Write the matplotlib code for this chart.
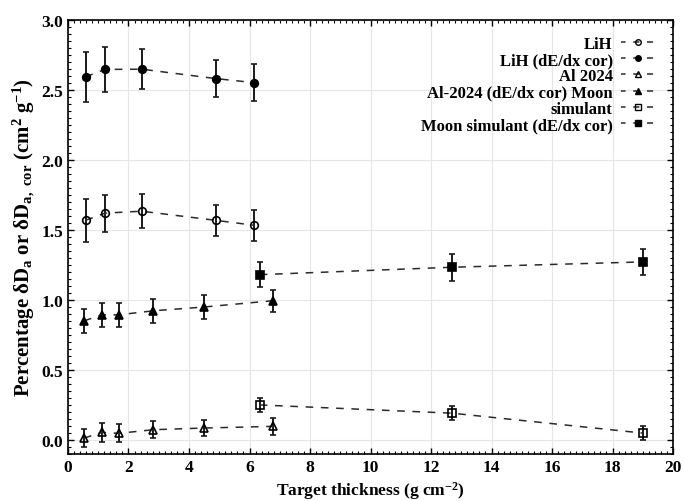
import matplotlib
matplotlib.use("Agg")
import matplotlib.pyplot as plt
from matplotlib.ticker import MultipleLocator, FormatStrFormatter
from matplotlib.lines import Line2D

plt.rcParams['font.family'] = ['Liberation Serif', 'DejaVu Serif']
plt.rcParams['font.weight'] = 'bold'
plt.rcParams['mathtext.fontset'] = 'custom'
plt.rcParams['mathtext.rm'] = 'Liberation Serif:bold'
plt.rcParams['mathtext.it'] = 'Liberation Serif:bold'
plt.rcParams['mathtext.bf'] = 'Liberation Serif:bold'

# Data
lih_x = [0.58, 1.22, 2.43, 4.88, 6.14]
lih_y = [1.567, 1.618, 1.632, 1.567, 1.532]
lih_err = [0.155, 0.133, 0.12, 0.11, 0.11]

lihcor_x = [0.58, 1.22, 2.43, 4.88, 6.14]
lihcor_y = [2.591, 2.644, 2.646, 2.579, 2.55]
lihcor_err = [0.18, 0.16, 0.145, 0.135, 0.13]

al_x = [0.53, 1.12, 1.67, 2.82, 4.49, 6.78]
al_y = [0.012, 0.053, 0.046, 0.072, 0.084, 0.096]
al_err = [0.065, 0.067, 0.065, 0.062, 0.06, 0.062]

alcor_x = [0.53, 1.12, 1.67, 2.82, 4.49, 6.78]
alcor_y = [0.849, 0.892, 0.892, 0.921, 0.948, 0.993]
alcor_err = [0.085, 0.084, 0.084, 0.084, 0.083, 0.08]

sim_x = [6.34, 12.70, 19.0]
sim_y = [0.249, 0.19, 0.048]
sim_err = [0.048, 0.05, 0.048]

simcor_x = [6.34, 12.70, 19.0]
simcor_y = [1.179, 1.232, 1.27]
simcor_err = [0.09, 0.095, 0.09]

labels = ["LiH", "LiH (dE/dx cor)", "Al 2024", "Al-2024 (dE/dx cor) Moon",
          "simulant", "Moon simulant (dE/dx cor)"]

fig = plt.figure(figsize=(6.84, 5.02), dpi=100)
ax = fig.add_axes([0.0994, 0.094, 0.8846, 0.865])

series = [
    (lih_x, lih_y, lih_err, 'o', 'none'),
    (lihcor_x, lihcor_y, lihcor_err, 'o', 'black'),
    (al_x, al_y, al_err, '^', 'none'),
    (alcor_x, alcor_y, alcor_err, '^', 'black'),
    (sim_x, sim_y, sim_err, 's', 'none'),
    (simcor_x, simcor_y, simcor_err, 's', 'black'),
]

line_col = '#2a2a2a'
handles = []
for (x, y, e, m, fc), lab in zip(series, labels):
    ax.errorbar(x, y, yerr=e, fmt=m, mfc=fc, mec='black', ms=5.5, mew=1.2,
                color=line_col, ecolor='#1a1a1a', elinewidth=1.4, capsize=2.5,
                capthick=1.3, linestyle=(0, (5, 5)), lw=1.1)
    handles.append(Line2D([], [], marker=m, mfc=fc, mec='black', ms=4, mew=1.0,
                          color=line_col, linestyle=(1, (4, 5)), lw=1.1, label=lab))

ax.set_xlim(0, 20)
ax.set_ylim(-0.1, 3.0)
ax.xaxis.set_major_locator(MultipleLocator(2))
ax.xaxis.set_minor_locator(MultipleLocator(0.2))
ax.yaxis.set_major_locator(MultipleLocator(0.5))
ax.yaxis.set_minor_locator(MultipleLocator(0.05))
ax.tick_params(which='both', direction='in', top=True, right=True, labelsize=12.5)
ax.tick_params(which='major', length=4, width=1)
ax.tick_params(which='minor', length=2, width=0.8)
ax.yaxis.set_major_formatter(FormatStrFormatter('%.1f'))
for s in ax.spines.values():
    s.set_linewidth(1.2)
ax.grid(True, which='major', color='#e6e6e6', lw=0.8)
ax.set_axisbelow(True)

ax.set_xlabel(r"Target thickness (g cm$^{-2}$)", fontsize=12.5, fontweight='bold',
              labelpad=3)
ax.set_ylabel(r"Percentage $\delta$D$_a$ or $\delta$D$_{a,\ cor}$ (cm$^2$ g$^{-1}$)",
              fontsize=15, fontweight='bold', labelpad=3)

leg = ax.legend(handles=handles, loc='upper right', bbox_to_anchor=(0.969, 0.963),
                frameon=False, markerfirst=False, fontsize=12, handlelength=2.0,
                labelspacing=0.02, borderaxespad=0.0, borderpad=0.0,
                handletextpad=0.5, numpoints=1)

fig.savefig("out.png", dpi=100)
